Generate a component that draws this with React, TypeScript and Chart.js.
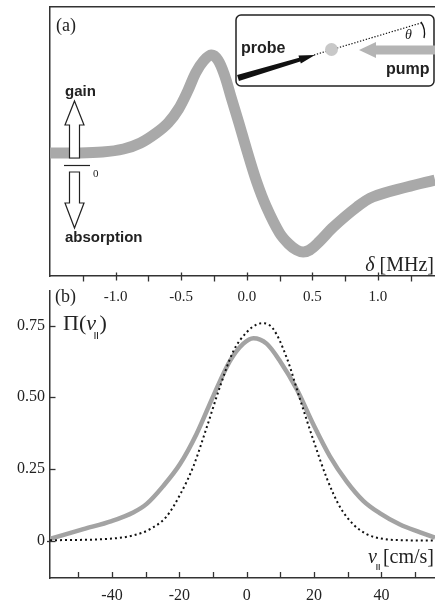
import React, { useEffect, useRef } from "react";
import { Chart, registerables } from "chart.js";

Chart.register(...registerables);

// ---------- Panel (a): probe transmission vs detuning ----------
const deltaMHz = [-1.5, -1.3, -1.1, -0.94, -0.81, -0.69, -0.6, -0.52, -0.45, -0.39, -0.33, -0.27, -0.22, -0.17, -0.12, -0.06, 0.0, 0.076, 0.15, 0.25, 0.32, 0.38, 0.43, 0.48, 0.55, 0.66, 0.84, 0.96, 1.22, 1.435];
const signal = [0.12, 0.12, 0.13, 0.16, 0.22, 0.32, 0.42, 0.56, 0.74, 0.92, 1.04, 1.1, 1.05, 0.9, 0.68, 0.42, 0.15, -0.17, -0.42, -0.68, -0.79, -0.85, -0.87, -0.85, -0.77, -0.62, -0.42, -0.32, -0.22, -0.15];
const deltaMajorTicks = [-1.0, -0.5, 0.0, 0.5, 1.0];
const deltaMinorTicks = [-1.25, -0.75, -0.25, 0.25, 0.75, 1.25];

// ---------- Panel (b): velocity distribution ----------
const velocityMeasured = [-58.4, -48.5, -40.1, -33.7, -29.7, -24.8, -19.8, -14.9, -9.9, -5, -1, 2, 5.9, 9.9, 14.9, 19.8, 24.7, 29.7, 34.6, 39.6, 45.5, 51.5, 55.9];
const piMeasured = [0.006, 0.04, 0.068, 0.098, 0.128, 0.19, 0.267, 0.372, 0.505, 0.626, 0.687, 0.706, 0.687, 0.626, 0.527, 0.405, 0.294, 0.206, 0.139, 0.095, 0.056, 0.029, 0.01];
const velocityModel = [-58.4, -40, -33.7, -28.7, -23.8, -19.8, -15.8, -11.9, -7.9, -4, 0, 3, 5, 7.9, 11.9, 15.8, 19.8, 23.8, 27.7, 31.7, 35.7, 40.6, 48, 55.9];
const piModel = [0.001, 0.007, 0.018, 0.04, 0.084, 0.16, 0.26, 0.394, 0.538, 0.66, 0.727, 0.754, 0.758, 0.738, 0.637, 0.494, 0.35, 0.217, 0.117, 0.056, 0.022, 0.006, 0.001, 0.0];
const velocityTicks = [-40, -20, 0, 20, 40];
const velocityMinorTicks = [-50, -40, -30, -20, -10, 0, 10, 20, 30, 40, 50];
const piTicks = [0, 0.25, 0.5, 0.75];

const SERIF = '"Liberation Serif", "DejaVu Serif", serif';
const SANS = '"Liberation Sans", Arial, sans-serif';
const INK = "#222";

const axisBorder = { display: true, color: "#333", width: 1.5 };

const topPlugin = {
  id: "panelA",
  afterDraw(chart: any) {
    const ctx = chart.ctx;
    const xs = chart.scales.x;
    const bottom = chart.chartArea.bottom;
    ctx.save();
    // ticks of delta axis
    ctx.strokeStyle = "#333";
    ctx.lineWidth = 1.3;
    deltaMajorTicks.forEach((d) => {
      const x = Math.round(xs.getPixelForValue(d)) + 0.5;
      ctx.beginPath();
      ctx.moveTo(x, bottom - 3.5);
      ctx.lineTo(x, bottom + 4.5);
      ctx.stroke();
    });
    deltaMinorTicks.forEach((d) => {
      const x = Math.round(xs.getPixelForValue(d)) + 0.5;
      ctx.beginPath();
      ctx.moveTo(x, bottom);
      ctx.lineTo(x, bottom + 5.5);
      ctx.stroke();
    });

    // (a)
    ctx.fillStyle = INK;
    ctx.font = `18px ${SERIF}`;
    ctx.textBaseline = "alphabetic";
    ctx.textAlign = "left";
    ctx.fillText("(a)", 56, 31);

    // delta [MHz]
    ctx.font = `20px ${SERIF}`;
    const unit = " [MHz]";
    const wu = ctx.measureText(unit).width;
    ctx.fillText(unit, 434 - wu, 271);
    ctx.font = `italic 20px ${SERIF}`;
    const wd = ctx.measureText("δ").width;
    ctx.fillText("δ", 434 - wu - wd, 271);

    // gain / absorption arrows
    const cx = 74.5;
    const drawArrow = (pts: number[][]) => {
      ctx.beginPath();
      ctx.moveTo(pts[0][0], pts[0][1]);
      for (let i = 1; i < pts.length; i++) ctx.lineTo(pts[i][0], pts[i][1]);
      ctx.closePath();
      ctx.fillStyle = "#fff";
      ctx.fill();
      ctx.strokeStyle = "#222";
      ctx.lineWidth = 1.2;
      ctx.stroke();
    };
    drawArrow([
      [cx, 101], [cx + 9.5, 125], [cx + 5, 125], [cx + 5, 158],
      [cx - 5, 158], [cx - 5, 125], [cx - 9.5, 125],
    ]);
    drawArrow([
      [cx - 5, 172], [cx + 5, 172], [cx + 5, 203], [cx + 9.5, 203],
      [cx, 228], [cx - 9.5, 203], [cx - 5, 203],
    ]);
    ctx.strokeStyle = "#222";
    ctx.lineWidth = 1.2;
    ctx.beginPath();
    ctx.moveTo(64, 165.5);
    ctx.lineTo(90, 165.5);
    ctx.stroke();
    ctx.fillStyle = INK;
    ctx.font = `11px ${SERIF}`;
    ctx.fillText("0", 93, 177);
    ctx.font = `bold 15px ${SANS}`;
    ctx.fillText("gain", 65, 96);
    ctx.fillText("absorption", 65, 242);

    // inset
    ctx.beginPath();
    (ctx as any).roundRect(236, 15, 198, 71, 5);
    ctx.fillStyle = "#fff";
    ctx.fill();
    ctx.lineWidth = 1.5;
    ctx.strokeStyle = "#222";
    ctx.stroke();

    // dotted beam line
    ctx.setLineDash([1.3, 1.7]);
    ctx.lineWidth = 1.2;
    ctx.strokeStyle = "#111";
    ctx.beginPath();
    ctx.moveTo(314, 55);
    ctx.lineTo(421, 23);
    ctx.stroke();
    ctx.setLineDash([]);

    // atoms
    ctx.fillStyle = "#c8c8c8";
    ctx.beginPath();
    ctx.arc(331.5, 49.5, 6.5, 0, Math.PI * 2);
    ctx.fill();

    // probe arrow (tapered)
    const sx = 238, sy = 78, tx = 315, ty = 55;
    const L = Math.hypot(tx - sx, ty - sy);
    const ux = (tx - sx) / L, uy = (ty - sy) / L;
    const px = -uy, py = ux;
    const hb = L - 16;
    const bx = sx + ux * hb, by = sy + uy * hb;
    ctx.fillStyle = "#111";
    ctx.beginPath();
    ctx.moveTo(sx + px * 3.2, sy + py * 3.2);
    ctx.lineTo(bx + px * 1.9, by + py * 1.9);
    ctx.lineTo(bx + px * 4.2, by + py * 4.2);
    ctx.lineTo(tx, ty);
    ctx.lineTo(bx - px * 4.2, by - py * 4.2);
    ctx.lineTo(bx - px * 1.9, by - py * 1.9);
    ctx.lineTo(sx - px * 3.2, sy - py * 3.2);
    ctx.closePath();
    ctx.fill();

    // pump arrow
    ctx.fillStyle = "#b4b4b4";
    ctx.beginPath();
    ctx.moveTo(359, 50);
    ctx.lineTo(376, 42);
    ctx.lineTo(376, 45.5);
    ctx.lineTo(436, 45.5);
    ctx.lineTo(436, 54.5);
    ctx.lineTo(376, 54.5);
    ctx.lineTo(376, 58);
    ctx.closePath();
    ctx.fill();

    // theta and arc
    ctx.fillStyle = INK;
    ctx.font = `italic 14px ${SERIF}`;
    ctx.fillText("θ", 405, 39);
    ctx.strokeStyle = "#111";
    ctx.lineWidth = 1.3;
    ctx.beginPath();
    ctx.moveTo(421, 22);
    ctx.quadraticCurveTo(426, 29, 424, 38);
    ctx.stroke();

    // labels
    ctx.fillStyle = INK;
    ctx.font = `bold 16px ${SANS}`;
    ctx.fillText("probe", 241, 53);
    ctx.fillText("pump", 386, 74);
    ctx.restore();
  },
};

const bottomPlugin = {
  id: "panelB",
  afterDraw(chart: any) {
    const ctx = chart.ctx;
    const xs = chart.scales.x;
    const ys = chart.scales.y;
    const { left, bottom } = chart.chartArea;
    ctx.save();
    ctx.strokeStyle = "#333";
    ctx.lineWidth = 1.3;
    velocityMinorTicks.forEach((v) => {
      const x = Math.round(xs.getPixelForValue(v)) + 0.5;
      ctx.beginPath();
      ctx.moveTo(x, bottom);
      ctx.lineTo(x, bottom - 6);
      ctx.stroke();
    });
    piTicks.forEach((p) => {
      const y = Math.round(ys.getPixelForValue(p)) + 0.5;
      ctx.beginPath();
      ctx.moveTo(left - (p === 0 ? 3 : 0), y);
      ctx.lineTo(left + 5.5, y);
      ctx.stroke();
    });

    ctx.fillStyle = INK;
    ctx.textAlign = "left";
    ctx.textBaseline = "alphabetic";
    ctx.font = `18px ${SERIF}`;
    ctx.fillText("(b)", 55, 302 - 276);

    // Pi(v||)
    const by = 330 - 276;
    ctx.font = `22px ${SERIF}`;
    ctx.fillText("Π(", 63, by);
    const w1 = ctx.measureText("Π(").width;
    ctx.font = `italic 22px ${SERIF}`;
    ctx.fillText("v", 63 + w1, by);
    const wv = ctx.measureText("v").width;
    ctx.lineWidth = 1;
    ctx.strokeStyle = INK;
    const sxp = 63 + w1 + wv - 1;
    ctx.beginPath();
    ctx.moveTo(sxp, by + 2);
    ctx.lineTo(sxp, by + 9);
    ctx.moveTo(sxp + 2.5, by + 2);
    ctx.lineTo(sxp + 2.5, by + 9);
    ctx.stroke();
    ctx.font = `22px ${SERIF}`;
    ctx.fillText(")", sxp + 4.5, by);

    // v|| [cm/s]
    const ub = 563 - 276;
    ctx.font = `20px ${SERIF}`;
    const unit = "[cm/s]";
    const wu = ctx.measureText(unit).width;
    const ux = 434 - wu;
    ctx.fillText(unit, ux, ub);
    ctx.font = `italic 20px ${SERIF}`;
    const wv2 = ctx.measureText("v").width;
    ctx.fillText("v", ux - 6 - wv2, ub);
    const sx2 = ux - 6;
    ctx.beginPath();
    ctx.moveTo(sx2, ub + 1);
    ctx.lineTo(sx2, ub + 7);
    ctx.moveTo(sx2 + 2.3, ub + 1);
    ctx.lineTo(sx2 + 2.3, ub + 7);
    ctx.stroke();
    ctx.restore();
  },
};

export default function App() {
  const topRef = useRef<HTMLCanvasElement | null>(null);
  const botRef = useRef<HTMLCanvasElement | null>(null);

  useEffect(() => {
    const top = new Chart(topRef.current as HTMLCanvasElement, {
      type: "line",
      data: {
        datasets: [
          {
            data: deltaMHz.map((d, i) => ({ x: d, y: signal[i] })),
            borderColor: "#a9a9a9",
            borderWidth: 11,
            pointRadius: 0,
            tension: 0.35,
            borderJoinStyle: "round",
            clip: 0,
          } as any,
        ],
      },
      options: {
        responsive: false,
        animation: false,
        devicePixelRatio: 1,
        events: [],
        layout: { padding: 0 },
        plugins: { legend: { display: false }, tooltip: { enabled: false } },
        scales: {
          x: {
            type: "linear",
            position: "bottom",
            min: -1.5,
            max: 1.435,
            afterBuildTicks: (s: any) => {
              s.ticks = deltaMajorTicks.map((v) => ({ value: v }));
            },
            afterFit: (s: any) => {
              s.height = 34;
            },
            grid: { display: false, drawTicks: false },
            border: axisBorder,
            ticks: {
              padding: 12,
              autoSkip: false,
              maxRotation: 0,
              color: INK,
              font: { family: SERIF, size: 15 },
              callback: (v: any) => Number(v).toFixed(1),
            },
          },
          xTop: {
            type: "linear",
            position: "top",
            min: 0,
            max: 1,
            ticks: { display: false },
            grid: { display: false, drawTicks: false },
            border: axisBorder,
            afterFit: (s: any) => {
              s.height = 7;
            },
          },
          y: {
            type: "linear",
            position: "left",
            min: -1.11,
            max: 1.58,
            ticks: { display: false },
            grid: { display: false, drawTicks: false },
            border: axisBorder,
            afterFit: (s: any) => {
              s.width = 50;
            },
          },
        },
      } as any,
      plugins: [topPlugin],
    });

    const bot = new Chart(botRef.current as HTMLCanvasElement, {
      type: "line",
      data: {
        datasets: [
          {
            data: velocityModel.map((v, i) => ({ x: v, y: piModel[i] })),
            borderColor: "#111",
            borderWidth: 2,
            borderDash: [2, 3],
            pointRadius: 0,
            cubicInterpolationMode: "monotone",
            clip: 0,
          } as any,
          {
            data: velocityMeasured.map((v, i) => ({ x: v, y: piMeasured[i] })),
            borderColor: "#a3a3a3",
            borderWidth: 4.5,
            pointRadius: 0,
            cubicInterpolationMode: "monotone",
            clip: 0,
          } as any,
        ],
      },
      options: {
        responsive: false,
        animation: false,
        devicePixelRatio: 1,
        events: [],
        layout: { padding: 0 },
        plugins: { legend: { display: false }, tooltip: { enabled: false } },
        scales: {
          x: {
            type: "linear",
            position: "bottom",
            min: -58.4,
            max: 55.9,
            afterBuildTicks: (s: any) => {
              s.ticks = velocityTicks.map((v) => ({ value: v }));
            },
            afterFit: (s: any) => {
              s.height = 27;
            },
            grid: { display: false, drawTicks: false },
            border: axisBorder,
            ticks: {
              padding: 8,
              autoSkip: false,
              maxRotation: 0,
              color: INK,
              font: { family: SERIF, size: 16 },
              callback: (v: any) => String(v),
            },
          },
          y: {
            type: "linear",
            position: "left",
            min: -0.1304,
            max: 0.872,
            afterBuildTicks: (s: any) => {
              s.ticks = piTicks.map((v) => ({ value: v }));
            },
            afterFit: (s: any) => {
              s.width = 50;
            },
            grid: { display: false, drawTicks: false },
            border: axisBorder,
            ticks: {
              padding: 5,
              autoSkip: false,
              color: INK,
              font: { family: SERIF, size: 16 },
              callback: (v: any) => (Number(v) === 0 ? "0" : Number(v).toFixed(2)),
            },
          },
        },
      } as any,
      plugins: [bottomPlugin],
    });

    return () => {
      top.destroy();
      bot.destroy();
    };
  }, []);

  return (
    <div
      style={{
        position: "absolute",
        left: 0,
        top: 0,
        width: 435,
        height: 605,
        overflow: "hidden",
        background: "#fff",
      }}
    >
      <canvas
        ref={botRef}
        width={435}
        height={329}
        style={{ position: "absolute", left: 0, top: 276 }}
      />
      <canvas
        ref={topRef}
        width={435}
        height={310}
        style={{ position: "absolute", left: 0, top: 0 }}
      />
    </div>
  );
}
